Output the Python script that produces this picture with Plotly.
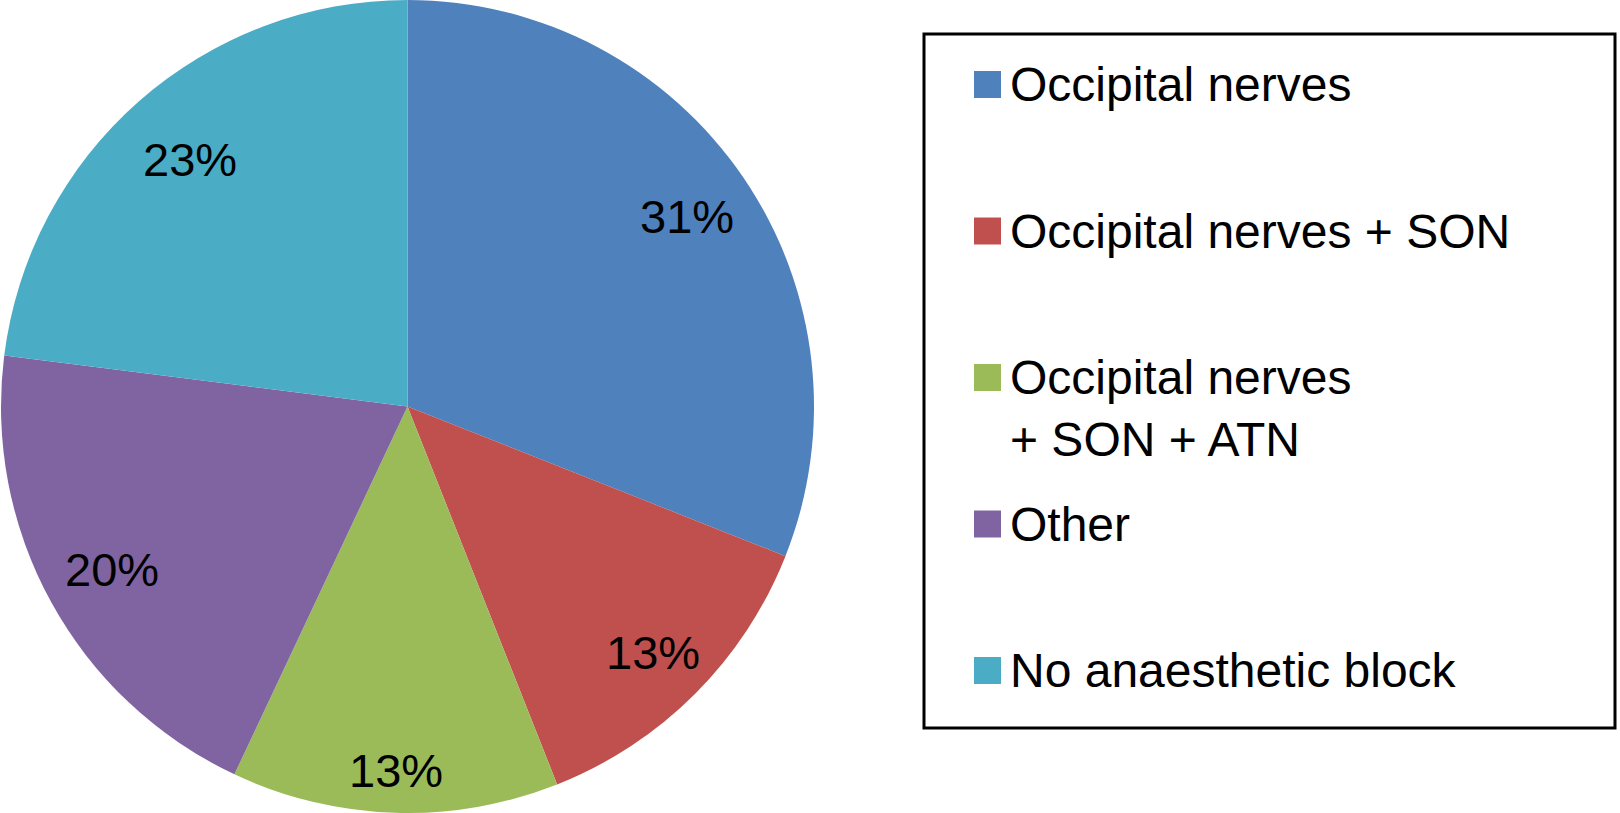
import math
import plotly.graph_objects as go

# ---- data ----
categories = ["Occipital nerves", "Occipital nerves + SON",
              "Occipital nerves<br>+ SON + ATN", "Other", "No anaesthetic block"]
values = [31, 13, 13, 20, 23]
colors = ["#4F81BD", "#C0504D", "#9BBB59", "#8064A2", "#4BACC6"]

# ---- layout constants (pixels) ----
W, H = 1620, 813
cx, cy, R = 407.5, 406.5, 406.5
label_radius = [0.83, 0.855, 0.895, 0.83, 0.81]
FONT = "Liberation Sans, Arial, sans-serif"

def px(x):
    return x / W

def py(y):
    return 1 - y / H

fig = go.Figure()
fig.add_trace(go.Pie(
    labels=[c.replace("<br>", " ") for c in categories],
    values=values,
    sort=False,
    direction="clockwise",
    rotation=0,
    marker=dict(colors=colors, line=dict(width=0)),
    textinfo="none",
    hoverinfo="label+percent",
    showlegend=False,
    domain=dict(x=[px(cx - R), px(cx + R)], y=[0, 1]),
))

annotations = []
shapes = []

# percentage labels positioned from the cumulative values
total = sum(values)
cum = 0
for v, rf in zip(values, label_radius):
    mid = (cum + v / 2) / total * 2 * math.pi
    cum += v
    lx = cx + rf * R * math.sin(mid)
    ly = cy - rf * R * math.cos(mid)
    annotations.append(dict(
        x=px(lx), y=py(ly), xref="paper", yref="paper",
        text=f"{round(v / total * 100)}%", showarrow=False,
        xanchor="center", yanchor="middle",
        font=dict(family=FONT, size=47, color="black"),
    ))

# legend box
shapes.append(dict(type="rect", xref="paper", yref="paper",
                   x0=px(924), x1=px(1615), y0=py(34), y1=py(728),
                   line=dict(color="black", width=3), fillcolor="rgba(0,0,0,0)"))

sq_top0, step, sq = 71, 146.5, 27
for i, (name, col) in enumerate(zip(categories, colors)):
    top = sq_top0 + i * step
    shapes.append(dict(type="rect", xref="paper", yref="paper",
                       x0=px(974), x1=px(974 + sq), y0=py(top), y1=py(top + sq),
                       line=dict(width=0), fillcolor=col))
    annotations.append(dict(
        x=px(1008), y=py(top - 15), xref="paper", yref="paper",
        text=name, showarrow=False, align="left",
        xanchor="left", yanchor="top",
        font=dict(family=FONT, size=48, color="black"),
    ))

fig.update_layout(
    width=W, height=H,
    margin=dict(l=0, r=0, t=0, b=0),
    paper_bgcolor="white", plot_bgcolor="white",
    annotations=annotations, shapes=shapes,
    showlegend=False,
)

fig.write_html("out.html",
               config={"displayModeBar": False},
               post_script="document.body.style.margin='0';document.body.style.overflow='hidden';")
